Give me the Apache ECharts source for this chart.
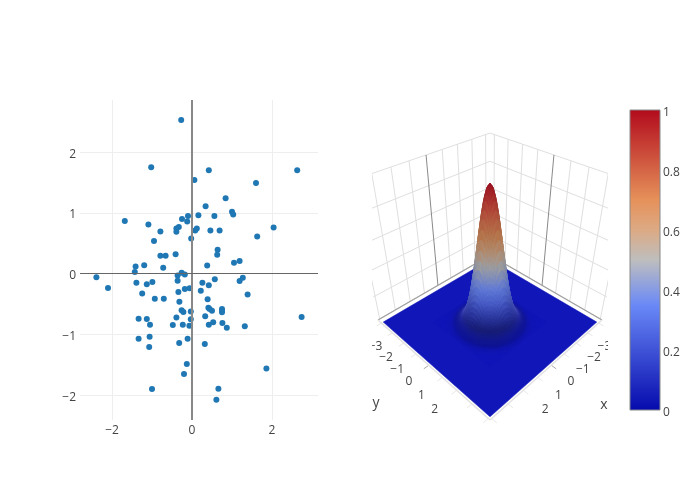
<!DOCTYPE html>
<html>
<head>
<meta charset="utf-8">
<style>html,body{margin:0;padding:0;background:#fff}#c{width:700px;height:500px}</style>
<script src="https://cdn.jsdelivr.net/npm/echarts@6/dist/echarts.min.js"></script>
</head>
<body>
<div id="c"></div>
<script>
// ---- scatter values ----
const scatterX = [-0.27,-1.02,0.42,2.63,0.06,1.60,0.84,0.34,1.00,1.03,0.16,0.56,-0.10,-0.25,-0.12,-1.68,-1.09,-0.33,-0.39,-0.39,-0.79,0.12,0.08,0.46,0.69,2.04,1.63,-0.02,-0.95,0.64,0.63,-0.79,-0.66,-0.41,0.38,1.05,1.19,-1.41,-1.195,-0.72,-1.43,-0.36,-0.26,-0.18,-2.39,-2.10,1.27,1.19,0.57,-0.36,-1.39,-0.99,-1.13,0.26,0.42,-0.18,-0.06,0.22,-0.34,-1.245,1.39,-0.93,-0.705,0.39,-0.315,0.41,0.44,0.50,0.75,0.75,0.75,-0.26,-0.215,-0.03,0.33,-1.335,-1.13,-0.39,-0.03,2.74,-1.05,-0.48,-0.23,-0.065,0.42,0.53,0.76,0.87,1.32,-1.335,-1.06,-0.11,-0.32,0.32,-1.07,-0.13,1.86,-0.20,-1.00,0.66,0.61];
const scatterY = [2.53,1.75,1.70,1.70,1.54,1.49,1.24,1.11,1.02,0.975,0.96,0.95,0.95,0.90,0.86,0.865,0.81,0.77,0.745,0.69,0.695,0.745,0.71,0.71,0.71,0.76,0.61,0.58,0.54,0.395,0.31,0.295,0.295,0.32,0.137,0.18,0.21,0.12,0.14,0.10,0.03,-0.03,0.015,-0.015,-0.06,-0.235,-0.065,-0.12,-0.09,-0.115,-0.15,-0.135,-0.175,-0.15,-0.19,-0.25,-0.24,-0.28,-0.30,-0.325,-0.34,-0.41,-0.41,-0.42,-0.46,-0.56,-0.58,-0.61,-0.58,-0.61,-0.635,-0.60,-0.63,-0.62,-0.70,-0.74,-0.745,-0.72,-0.75,-0.71,-0.84,-0.845,-0.84,-0.855,-0.84,-0.80,-0.81,-0.89,-0.865,-1.07,-1.035,-1.07,-1.14,-1.155,-1.205,-1.485,-1.56,-1.65,-1.895,-1.89,-2.075];
const scatterXTicks = [-2,0,2];
const scatterYTicks = [-2,-1,0,1,2];
// ---- surface cross-section: height against distance from the centre ----
const surfaceRadius = [0,0.1,0.2,0.3,0.4,0.5,0.6,0.7,0.8,0.9,1.0,1.1,1.2,1.3,1.4,1.5,1.6,1.7,1.8];
const surfaceHeight = [1,0.976,0.906,0.801,0.674,0.539,0.411,0.298,0.206,0.135,0.085,0.050,0.029,0.015,0.008,0.004,0.002,0.001,0];
const surfaceExtent = [-3,3];
// ---- scene axes ----
const wallTicks = [-3,-2.25,-1.5,-0.75,0,0.75,1.5,2.25,3];
const zTicks = [0,0.2,0.4,0.6,0.8,1];
const sceneTickLabels = [-3,-2,-1,0,1,2];
const colorbarTicks = [0,0.2,0.4,0.6,0.8,1];
// ---- colour scale ----
const scaleStops = [0,0.35,0.5,0.6,0.7,1];
const scaleRed = [5,106,190,220,230,178];
const scaleGreen = [10,137,190,170,145,10];
const scaleBlue = [172,247,190,132,90,28];

// ---- camera fitted to the reference ----
const BOX_LO = -3.25, BOX_HI = 3.08;
const MID = (BOX_LO+BOX_HI)/2, HALF = (BOX_HI-BOX_LO)/2;
const EYE = 2.77, FOCAL = 425.7, CX = 490, CY = 255.3, ZTOP = 0.909;
const CLIP = {type:'rect', shape:{x:372,y:90,width:236,height:345}};
const S2 = Math.SQRT2, S3 = Math.sqrt(3), S6 = Math.sqrt(6);
function norm(x,y,z){ return [(x-MID)/HALF, (y-MID)/HALF, -1 + z*(1+ZTOP)]; }
function project(x,y,z){
  const p = norm(x,y,z), a=p[0]-EYE, b=p[1]-EYE, c=p[2]-EYE;
  const d = -(a+b+c)/S3, r=(-a+b)/S2, u=(-a-b+2*c)/S6;
  return [CX + FOCAL*r/d, CY - FOCAL*u/d];
}
function lerpTable(xs,ys,v){
  if(v<=xs[0]) return ys[0];
  for(let i=1;i<xs.length;i++){ if(v<=xs[i]){ const t=(v-xs[i-1])/(xs[i]-xs[i-1]); return ys[i-1]+t*(ys[i]-ys[i-1]); } }
  return ys[ys.length-1];
}
function heightAtR(r){ return lerpTable(surfaceRadius,surfaceHeight,r); }
function heightAt(x,y){ return heightAtR(Math.hypot(x,y)); }
// lighting look-up, tuned by eye against the reference
const viewV = [0,0.5,0.7,0.85,1], viewK = [0.72,0.8,0.84,0.85,0.82];
const bandZ = [0,0.01,0.03,0.08,0.15,0.25,0.35,0.5,0.7,0.85,1], bandK = [1,0.96,0.9,0.66,0.82,0.98,1,0.93,0.88,0.98,1];
const rimZ = [0,0.2,0.4], rimAdd = [65,22,5];
function viewCos(x,y,z,n){
  const c=norm(x,y,z), e=[EYE-c[0],EYE-c[1],EYE-c[2]];
  return Math.abs((n[0]*e[0]+n[1]*e[1]+n[2]*e[2])/(Math.hypot(n[0],n[1],n[2])*Math.hypot(e[0],e[1],e[2])));
}
const floorK = 1, floorAdd = 12;
function scaleColor(z,k,add){
  const ch=t=>Math.min(255,Math.round(lerpTable(scaleStops,t,z)*k+add));
  return 'rgb('+ch(scaleRed)+','+ch(scaleGreen)+','+ch(scaleBlue)+')';
}
function cellColor(x0,y0,x1,y1){
  if(x1-x0>1) return scaleColor(0,floorK,floorAdd);
  const x=(x0+x1)/2, y=(y0+y1)/2, r=Math.hypot(x,y), z=heightAtR(r);
  const dh=(heightAtR(r+0.1)-heightAtR(Math.abs(r-0.1)))/0.2;
  const s=(1+ZTOP)*HALF*dh, n=r>1e-6?[-s*x/r,-s*y/r,1]:[0,0,1];
  const v=viewCos(x,y,z,n), w=Math.min(1,z/0.01);
  const band=1-(1-lerpTable(bandZ,bandK,z))*Math.min(1,v/0.8);
  const k=floorK*(1-w)+lerpTable(viewV,viewK,v)*band*w;
  const add=floorAdd*(1-w)+(8+lerpTable(rimZ,rimAdd,z)*Math.pow(1-v,3))*w;
  return scaleColor(z,k,add);
}
// scene line segments
const segs=[];
function seg(a,b,color,width){ segs.push({a:a,b:b,color:color,width:width}); }
const GRID='#dfdfdf', ZERO='#8a8a8a';
zTicks.forEach(z=>{
  seg([BOX_LO,BOX_LO,z],[BOX_HI,BOX_LO,z],GRID,1);
  seg([BOX_LO,BOX_LO,z],[BOX_LO,BOX_HI,z],GRID,1);
});
wallTicks.forEach(t=>{
  const col = t===0?ZERO:GRID;
  seg([t,BOX_LO,0],[t,BOX_LO,1],col,1);
  seg([BOX_LO,t,0],[BOX_LO,t,1],col,1);
});
wallTicks.forEach(t=>{
  const col = t===0?'#aaa':'#e8e8e8';
  seg([t,BOX_HI,0],[t,BOX_HI+0.22,0],col,1);
  seg([BOX_HI,t,0],[BOX_HI+0.22,t,0],col,1);
});
seg([BOX_LO,BOX_LO,0],[BOX_HI,BOX_LO,0],'#a0a0a0',1.2);
seg([BOX_LO,BOX_LO,0],[BOX_LO,BOX_HI,0],'#a0a0a0',1.2);
seg([BOX_HI,BOX_HI,0],[BOX_HI,BOX_LO,0],'#e2e2e2',1.5);
seg([BOX_HI,BOX_HI,0],[BOX_LO,BOX_HI,0],'#e2e2e2',1.5);

// surface cells: a far-to-near list, floor first, finer cells around the peak
const surfaceCells=[[surfaceExtent[0],surfaceExtent[0],surfaceExtent[1],surfaceExtent[1]]];
for(let i=-32;i<32;i++){ for(let j=-32;j<32;j++){
  surfaceCells.push([i/20,j/20,(i+1)/20,(j+1)/20]);
}}
// scene labels
const sceneLabels=[];
sceneTickLabels.forEach(t=>{
  const txt=(t<0?'\u2212':'')+Math.abs(t);
  const lx=12.2*t+0.35*t*t, ly=13*t+0.4*t*t;
  sceneLabels.push({text:txt,x:409+lx,y:382+ly,size:12});
  sceneLabels.push({text:txt,x:571-lx,y:382+ly,size:12});
});
sceneLabels.push({text:'y',x:376,y:403,size:14});
sceneLabels.push({text:'x',x:604,y:405,size:14});

const colorStops=scaleStops.map((s,i)=>({offset:1-s,color:'rgb('+scaleRed[i]+','+scaleGreen[i]+','+scaleBlue[i]+')'})).reverse();
const FONT='"Open Sans"';
const minusFmt=v=>String(v).replace('-','\u2212');
const chart=echarts.init(document.getElementById('c'),null,{renderer:'canvas'});
chart.setOption({
  animation:false,
  backgroundColor:'#fff',
  textStyle:{fontFamily:FONT},
  grid:[
    {left:80,top:100,width:238,height:320,show:false},
    {left:630,top:110,width:30,height:300,show:false}
  ],
  xAxis:[
    {gridIndex:0,type:'value',min:-2.8,max:3.15,
      axisLine:{show:false},axisTick:{show:false,customValues:scatterXTicks},
      axisLabel:{customValues:scatterXTicks,color:'#444',fontSize:12,fontFamily:FONT,margin:5,formatter:minusFmt},
      splitLine:{show:true,lineStyle:{color:'#eeeeee',width:1}}},
    {gridIndex:1,type:'value',min:0,max:1,show:false}
  ],
  yAxis:[
    {gridIndex:0,type:'value',min:-2.406,max:2.857,
      axisLine:{show:false},axisTick:{show:false,customValues:scatterYTicks},
      axisLabel:{customValues:scatterYTicks,color:'#444',fontSize:12,fontFamily:FONT,margin:4,verticalAlign:'top',lineHeight:4,formatter:minusFmt},
      splitLine:{show:true,lineStyle:{color:'#eeeeee',width:1}}},
    {gridIndex:1,type:'value',min:0,max:1,position:'right',
      axisLine:{show:false},axisTick:{show:false,customValues:colorbarTicks},
      axisLabel:{customValues:colorbarTicks,color:'#444',fontSize:12,fontFamily:FONT,margin:3,verticalAlign:'top',lineHeight:5},
      splitLine:{show:false}}
  ],
  series:[
    {type:'scatter',name:'points',xAxisIndex:0,yAxisIndex:0,symbolSize:6,
      itemStyle:{color:'#1f77b4',opacity:1},
      data:scatterX.map((x,i)=>[x,scatterY[i]]),
      markLine:{silent:true,symbol:'none',animation:false,label:{show:false},
        data:[{xAxis:0,lineStyle:{color:'#888',width:2,type:'solid'}},{yAxis:0,lineStyle:{color:'#666',width:1,type:'solid'}}]}},
    {type:'custom',name:'scene axes',coordinateSystem:'none',silent:true,progressive:0,z:2,
      data:segs.map((s,i)=>[i]),
      renderItem:(p,api)=>{
        const s=segs[api.value(0)], a=project(s.a[0],s.a[1],s.a[2]), b=project(s.b[0],s.b[1],s.b[2]);
        return {type:'line',shape:{x1:a[0],y1:a[1],x2:b[0],y2:b[1]},style:{stroke:s.color,lineWidth:s.width,fill:null},clipPath:CLIP};
      }},
    {type:'custom',name:'surface',coordinateSystem:'none',silent:true,progressive:0,z:3,
      data:surfaceCells,
      renderItem:(p,api)=>{
        const x0=api.value(0),y0=api.value(1),x1=api.value(2),y1=api.value(3);
        const pts=[[x0,y0],[x1,y0],[x1,y1],[x0,y1]].map(q=>project(q[0],q[1],heightAt(q[0],q[1])));
        const col=cellColor(x0,y0,x1,y1);
        return {type:'polygon',shape:{points:pts},style:{fill:col,stroke:col,lineWidth:0.5}};
      }},
    {type:'custom',name:'scene labels',coordinateSystem:'none',silent:true,progressive:0,z:4,
      data:sceneLabels.map((s,i)=>[i]),
      renderItem:(p,api)=>{
        const s=sceneLabels[api.value(0)];
        return {type:'text',style:{text:s.text,x:s.x,y:s.y,align:'center',verticalAlign:'middle',fill:'#444',font:s.size+'px '+FONT},clipPath:CLIP};
      }},
    {type:'custom',name:'colorbar',xAxisIndex:1,yAxisIndex:1,coordinateSystem:'cartesian2d',silent:true,z:3,
      data:[[0,1,1,0]],
      renderItem:(p,api)=>{
        const a=api.coord([api.value(0),api.value(1)]), b=api.coord([api.value(2),api.value(3)]);
        return {type:'rect',shape:{x:a[0],y:a[1],width:b[0]-a[0],height:b[1]-a[1]},
          style:{fill:new echarts.graphic.LinearGradient(0,0,0,1,colorStops),stroke:'#888',lineWidth:1}};
      }}
  ]
});
</script>
</body>
</html>
